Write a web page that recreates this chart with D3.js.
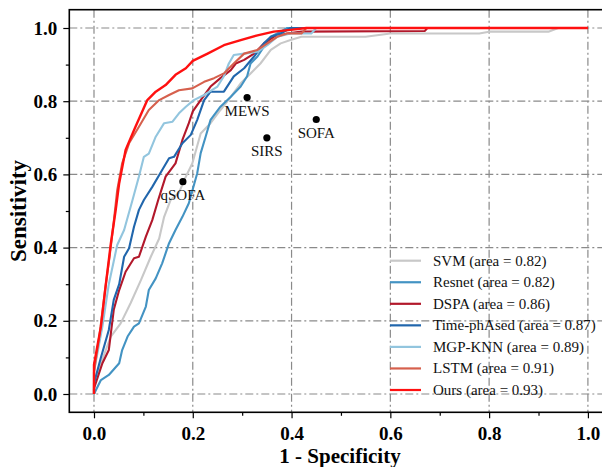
<!DOCTYPE html>
<html><head><meta charset="utf-8">
<script src="https://cdn.jsdelivr.net/npm/d3@7"></script>
<style>
body{margin:0;background:#fff;}
svg{display:block;font-family:"Liberation Serif","Times New Roman",serif;}
</style>
</head><body>
<svg id="chart" width="602" height="467"></svg>
<script>
// ---------- data ----------
const majorTicks = [0, 0.2, 0.4, 0.6, 0.8, 1.0];
const minorTicks = [0.1, 0.3, 0.5, 0.7, 0.9];
const tickLabels = ["0.0", "0.2", "0.4", "0.6", "0.8", "1.0"];

const modelNames = ["SVM", "Resnet", "DSPA", "Time-phAsed", "MGP-KNN", "LSTM", "Ours"];
const modelAUC = [0.82, 0.82, 0.86, 0.87, 0.89, 0.91, 0.93];

const rocSVM = [[0,0],[0,0.02],[0.014,0.084],[0.034,0.157],[0.054,0.193],[0.074,0.248],[0.095,0.311],[0.115,0.375],[0.132,0.425],[0.142,0.484],[0.155,0.53],[0.172,0.55],[0.186,0.594],[0.199,0.63],[0.216,0.712],[0.236,0.74],[0.256,0.776],[0.277,0.812],[0.297,0.849],[0.317,0.876],[0.337,0.903],[0.358,0.94],[0.378,0.958],[0.398,0.967],[0.42,0.976],[0.55,0.976],[0.6,0.985],[0.78,0.985],[0.8,0.99],[0.92,0.99],[0.94,1.0],[1,1]];
const rocResnet = [[0,0],[0.014,0.038],[0.03,0.052],[0.051,0.084],[0.057,0.12],[0.068,0.157],[0.081,0.184],[0.091,0.193],[0.105,0.239],[0.111,0.284],[0.125,0.316],[0.138,0.357],[0.152,0.412],[0.165,0.448],[0.179,0.484],[0.192,0.521],[0.209,0.603],[0.216,0.658],[0.226,0.703],[0.236,0.749],[0.256,0.785],[0.277,0.812],[0.297,0.84],[0.31,0.868],[0.317,0.903],[0.331,0.922],[0.344,0.949],[0.358,0.976],[0.378,0.99],[0.391,1.0],[1,1]];
const rocDSPA = [[0,0],[0,0.015],[0.017,0.084],[0.03,0.12],[0.04,0.23],[0.051,0.284],[0.064,0.334],[0.081,0.371],[0.091,0.375],[0.105,0.43],[0.118,0.475],[0.13,0.53],[0.145,0.594],[0.165,0.63],[0.179,0.694],[0.192,0.74],[0.2,0.772],[0.216,0.803],[0.236,0.84],[0.256,0.863],[0.277,0.885],[0.287,0.903],[0.304,0.913],[0.324,0.93],[0.344,0.958],[0.364,0.976],[0.391,0.985],[0.42,0.99],[0.67,0.992],[0.675,1.0],[1,1]];
const rocTime = [[0,0],[0,0.029],[0.014,0.10],[0.03,0.175],[0.04,0.257],[0.051,0.30],[0.061,0.375],[0.071,0.398],[0.081,0.457],[0.091,0.503],[0.101,0.53],[0.118,0.566],[0.138,0.612],[0.152,0.644],[0.162,0.648],[0.179,0.685],[0.196,0.708],[0.209,0.749],[0.223,0.803],[0.236,0.826],[0.263,0.826],[0.283,0.868],[0.304,0.89],[0.324,0.922],[0.344,0.958],[0.358,0.976],[0.378,0.985],[0.398,1.0],[1,1]];
const rocMGP = [[0,0],[0,0.061],[0.017,0.184],[0.03,0.30],[0.047,0.407],[0.061,0.448],[0.078,0.53],[0.091,0.594],[0.101,0.648],[0.111,0.657],[0.125,0.703],[0.142,0.74],[0.159,0.744],[0.172,0.767],[0.186,0.785],[0.202,0.803],[0.223,0.817],[0.25,0.84],[0.263,0.868],[0.273,0.903],[0.283,0.926],[0.304,0.93],[0.331,0.935],[0.351,0.953],[0.371,0.976],[0.398,0.985],[0.44,0.985],[0.45,1.0],[1,1]];
const rocLSTM = [[0,0],[0,0.06],[0.012,0.17],[0.022,0.28],[0.032,0.38],[0.04,0.47],[0.047,0.557],[0.057,0.63],[0.071,0.685],[0.091,0.73],[0.111,0.776],[0.132,0.803],[0.152,0.817],[0.172,0.83],[0.199,0.835],[0.223,0.853],[0.243,0.863],[0.263,0.876],[0.283,0.903],[0.304,0.93],[0.331,0.94],[0.351,0.958],[0.371,0.976],[0.391,0.985],[0.42,0.985],[0.43,1.0],[1,1]];
const rocOurs = [[0,0],[0,0.08],[0.014,0.184],[0.024,0.30],[0.034,0.41],[0.044,0.503],[0.051,0.576],[0.064,0.667],[0.084,0.73],[0.108,0.803],[0.125,0.826],[0.145,0.844],[0.165,0.872],[0.186,0.89],[0.2,0.91],[0.23,0.93],[0.263,0.953],[0.297,0.967],[0.331,0.98],[0.364,0.99],[0.398,0.995],[0.43,1.0],[1,1]];

const scoreNames = ["MEWS", "SIRS", "SOFA", "qSOFA"];
const scoreFPR = [0.31, 0.35, 0.45, 0.18];
const scoreTPR = [0.81, 0.70, 0.75, 0.58];

// ---------- styles ----------
const modelColors = ["#c8c8c8", "#4393c3", "#b2182b", "#2166ac", "#92c5de", "#d6604d", "#ff1010"];
const rocSeries = [rocSVM, rocResnet, rocDSPA, rocTime, rocMGP, rocLSTM, rocOurs];

const svg = d3.select("#chart");
const L = 69.3, R = 612.6, T = 9.7, B = 412.3;
const x = d3.scaleLinear().domain([-0.05, 1.05]).range([L, R]);
const y = d3.scaleLinear().domain([-0.05, 1.05]).range([B, T]);

// grid
const grid = svg.append("g").attr("stroke", "#8a8a8a").attr("stroke-width", 1.2)
  .attr("stroke-dasharray", "8,3,2,3").attr("fill", "none");
grid.selectAll("line.v").data(majorTicks).join("line").attr("class", "v")
  .attr("x1", d => x(d)).attr("x2", d => x(d)).attr("y1", T).attr("y2", B);
grid.selectAll("line.h").data(majorTicks).join("line").attr("class", "h")
  .attr("y1", d => y(d)).attr("y2", d => y(d)).attr("x1", L).attr("x2", R);

// curves
const line = d3.line().x(d => x(d[0])).y(d => y(d[1]));
svg.append("g").selectAll("path").data(rocSeries).join("path")
  .attr("d", line).attr("fill", "none")
  .attr("stroke", (d, i) => modelColors[i])
  .attr("stroke-width", (d, i) => i === 6 ? 2.4 : 2.1)
  .attr("stroke-linejoin", "round");

// clinical scores
const pts = svg.append("g");
pts.selectAll("circle").data(scoreNames).join("circle")
  .attr("cx", (d, i) => x(scoreFPR[i])).attr("cy", (d, i) => y(scoreTPR[i]))
  .attr("r", 3.6).attr("fill", "#000");
pts.selectAll("text").data(scoreNames).join("text")
  .attr("x", (d, i) => x(scoreFPR[i])).attr("y", (d, i) => y(scoreTPR[i]) + 18.5)
  .attr("text-anchor", "middle").attr("font-size", 15).attr("fill", "#111").text(d => d);

// axes
function styleAxis(g) {
  g.select(".domain").remove();
  g.selectAll(".tick line").attr("stroke", "#000").attr("stroke-width", 1.2);
  g.selectAll("text").attr("font-family", "Liberation Serif, Times New Roman, serif")
    .attr("font-weight", "bold").attr("font-size", 19).attr("fill", "#000");
}
svg.append("g").attr("transform", `translate(0,${B})`)
  .call(d3.axisBottom(x).tickValues(majorTicks).tickFormat((d, i) => tickLabels[i]).tickSize(6).tickPadding(8))
  .call(styleAxis);
svg.append("g").attr("transform", `translate(0,${B})`)
  .call(d3.axisBottom(x).tickValues(minorTicks).tickFormat("").tickSize(3.5))
  .call(styleAxis);
svg.append("g").attr("transform", `translate(${L},0)`)
  .call(d3.axisLeft(y).tickValues(majorTicks).tickFormat((d, i) => tickLabels[i]).tickSize(6).tickPadding(6))
  .call(styleAxis);
svg.append("g").attr("transform", `translate(${L},0)`)
  .call(d3.axisLeft(y).tickValues(minorTicks).tickFormat("").tickSize(3.5))
  .call(styleAxis);

// spines
svg.append("rect").attr("x", L).attr("y", T).attr("width", R - L).attr("height", B - T)
  .attr("fill", "none").attr("stroke", "#000").attr("stroke-width", 1.6);

// axis titles
svg.append("text").attr("x", 340).attr("y", 463).attr("text-anchor", "middle")
  .attr("font-weight", "bold").attr("font-size", 21).text("1 - Specificity");
svg.append("text").attr("transform", `translate(26,${(T + B) / 2}) rotate(-90)`)
  .attr("text-anchor", "middle").attr("font-weight", "bold").attr("font-size", 23).text("Sensitivity");

// legend
const leg = svg.append("g");
const rows = leg.selectAll("g").data(modelNames).join("g")
  .attr("transform", (d, i) => `translate(390,${260.7 + i * 21.55})`);
rows.append("line").attr("x1", 0).attr("x2", 31).attr("y1", 0).attr("y2", 0)
  .attr("stroke", (d, i) => modelColors[i]).attr("stroke-width", 2.2);
rows.append("text").attr("x", 43).attr("y", 5).attr("font-size", 15).attr("fill", "#111")
  .text((d, i) => `${d} (area = ${modelAUC[i].toFixed(2)})`);
</script>
</body></html>
